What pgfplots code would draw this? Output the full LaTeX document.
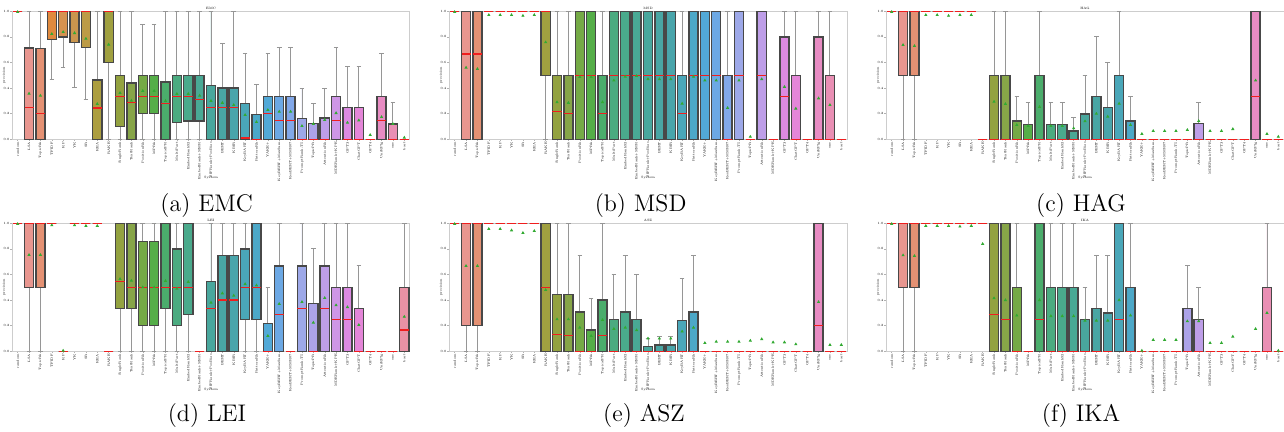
\documentclass[border=0pt]{standalone}
\usepackage{pgfplots}
\pgfplotsset{compat=1.18}
\usepgfplotslibrary{statistics}
\newcommand{\tinyf}{\fontsize{1.6}{1.9}\selectfont}
\definecolor{c1}{RGB}{233,143,140}\definecolor{c2}{RGB}{232,150,143}\definecolor{c3}{RGB}{228,145,115}
\definecolor{c4}{RGB}{224,138,62}\definecolor{c5}{RGB}{214,146,80}\definecolor{c6}{RGB}{202,150,78}
\definecolor{c7}{RGB}{188,155,70}\definecolor{c8}{RGB}{172,158,64}\definecolor{c9}{RGB}{160,160,64}
\definecolor{c10}{RGB}{147,162,64}\definecolor{c11}{RGB}{135,165,72}\definecolor{c12}{RGB}{117,170,70}
\definecolor{c13}{RGB}{85,174,72}\definecolor{c14}{RGB}{75,173,108}\definecolor{c15}{RGB}{75,171,128}
\definecolor{c16}{RGB}{74,170,140}\definecolor{c17}{RGB}{73,169,149}\definecolor{c18}{RGB}{73,167,157}
\definecolor{c19}{RGB}{73,166,164}\definecolor{c20}{RGB}{73,165,171}\definecolor{c21}{RGB}{74,167,185}
\definecolor{c22}{RGB}{76,168,200}\definecolor{c23}{RGB}{82,169,215}\definecolor{c24}{RGB}{108,168,228}
\definecolor{c25}{RGB}{130,168,233}\definecolor{c26}{RGB}{157,168,232}\definecolor{c27}{RGB}{172,163,232}
\definecolor{c28}{RGB}{190,158,232}\definecolor{c29}{RGB}{206,150,230}\definecolor{c30}{RGB}{220,138,225}
\definecolor{c31}{RGB}{228,134,216}\definecolor{c32}{RGB}{230,136,205}\definecolor{c33}{RGB}{232,140,195}
\definecolor{c34}{RGB}{233,143,180}\definecolor{c35}{RGB}{234,146,165}
\definecolor{boxedge}{RGB}{72,72,72}
\definecolor{whisk}{RGB}{150,150,150}
\definecolor{medred}{RGB}{240,30,30}
\definecolor{frame}{RGB}{205,205,205}
\definecolor{meang}{RGB}{50,170,50}
% box: position, lower whisker, lower quartile, median, upper quartile, upper whisker
\newcommand{\bp}[6]{\addplot[fill=c#1, draw=boxedge, boxplot prepared={draw position=#1, lower whisker=#2, lower quartile=#3, median=#4, upper quartile=#5, upper whisker=#6}] coordinates {};}
\newcommand{\fl}[2]{\bp{#1}{#2}{#2}{#2}{#2}{#2}}
\pgfplotsset{every axis title shift=0pt}
\pgfplotsset{panel/.style={
  scale only axis, width=199pt, height=64pt,
  xmin=0.5, xmax=35.5, ymin=0, ymax=1,
  axis line style={draw=frame, line width=0.5pt},
  xtick={1,...,35},
  xticklabels={random,LSA,TopicRk,TFIDF,KP,YK,SR,KEA,RAKE,SingleRank,TextRank,PositionRk,MPRk,TopicalPR,MultiPart,EmbedRankS2,EmbedRank+MMR,SIFRank+PosBias,BERT,KBIR,KeyBART,PatternRk,YAKE+,KeyBERT+MaxSum,KeyBERT+MMR07,PromptRank-T5,TopicPR,AttentionRk,MDERank+KPE,GPT3,ChatGPT,GPT4,UniKPlg,one,bart},
  ytick={0,0.2,0.4,0.6,0.8,1},
  yticklabel style={/pgf/number format/.cd, fixed, fixed zerofill, precision=1, assume math mode=true},
  tick label style={font=\tinyf, inner sep=0.4pt},
  x tick label style={rotate=90, anchor=east},
  major tick length=0.8pt, tick style={draw=gray!60, line width=0.2pt}, tick align=outside,
  xtick pos=bottom, ytick pos=left,
  xlabel={System}, ylabel={precision},
  label style={font=\tinyf},
  xlabel style={at={(axis description cs:0.5,-0.235)}, anchor=north, yshift=0pt},
  ylabel style={at={(axis description cs:-0.02,0.5)}, anchor=center},
  title style={font=\tinyf, at={(axis description cs:0.5,1)}, anchor=south, inner sep=0.5pt, yshift=0pt},
  boxplot/draw direction=y,
  boxplot/box extend=0.8, boxplot/whisker extend=0.4,
  boxplot/every box/.style={draw=boxedge, line width=0.7pt},
  boxplot/every whisker/.style={draw=whisk, line width=0.45pt},
  boxplot/every median/.style={draw=medred, line width=0.7pt},
}}
\tikzset{mean/.style={only marks, mark=triangle*, mark size=0.55pt, color=meang}}
\begin{document}
\begin{tikzpicture}
\useasboundingbox (0,0) rectangle (642pt,-216pt);
% (a) EMC
\begin{axis}[panel, title={EMC}, at={(6pt,-69.65pt)}, anchor=south west]
\fl{1}{1}
\bp{2}{0}{0}{0.25}{0.714}{1}
\bp{3}{0}{0}{0.2}{0.71}{1}
\bp{4}{0.469}{0.78}{1}{1}{1}
\bp{5}{0.5625}{0.8}{1}{1}{1}
\bp{6}{0.406}{0.758}{1}{1}{1}
\bp{7}{0.3125}{0.716}{1}{1}{1}
\bp{8}{0}{0}{0.245}{0.464}{1}
\bp{9}{0}{0.6}{1}{1}{1}
\bp{10}{0}{0.1}{0.333}{0.5}{1}
\bp{11}{0}{0}{0.286}{0.44}{1}
\bp{12}{0}{0.2}{0.333}{0.5}{0.9}
\bp{13}{0}{0.2}{0.333}{0.5}{0.9}
\bp{14}{0}{0}{0.279}{0.448}{1}
\bp{15}{0}{0.13}{0.333}{0.5}{1}
\bp{16}{0}{0.143}{0.333}{0.5}{1}
\bp{17}{0}{0.143}{0.31}{0.5}{1}
\bp{18}{0}{0}{0.25}{0.42}{1}
\bp{19}{0}{0}{0.25}{0.4}{0.75}
\bp{20}{0}{0}{0.25}{0.4}{1}
\bp{21}{0}{0}{0.01}{0.281}{0.667}
\bp{22}{0}{0}{0}{0.195}{0.43}
\bp{23}{0}{0}{0.2}{0.333}{0.667}
\bp{24}{0}{0}{0.145}{0.333}{0.714}
\bp{25}{0}{0}{0.145}{0.333}{0.714}
\bp{26}{0}{0}{0}{0.164}{0.4}
\bp{27}{0}{0}{0}{0.125}{0.281}
\bp{28}{0}{0}{0}{0.167}{0.4}
\bp{29}{0}{0}{0.145}{0.333}{0.714}
\bp{30}{0}{0}{0}{0.25}{0.57}
\bp{31}{0}{0}{0}{0.25}{0.57}
\fl{32}{0}
\bp{33}{0}{0}{0.145}{0.333}{0.667}
\bp{34}{0}{0}{0}{0.12}{0.286}
\fl{35}{0}
\addplot[mean] coordinates {(1,0.995)(2,0.357)(3,0.341)(4,0.823)(5,0.838)(6,0.83)(7,0.786)(8,0.276)(9,0.74)(10,0.362)(11,0.302)(12,0.378)(13,0.378)(14,0.3)(15,0.355)(16,0.355)(17,0.341)(18,0.3)(19,0.285)(20,0.268)(21,0.19)(22,0.135)(23,0.229)(24,0.216)(25,0.216)(26,0.104)(27,0.12)(28,0.151)(29,0.205)(30,0.13)(31,0.148)(32,0.034)(33,0.174)(34,0.12)(35,0.013)};
\end{axis}
% (b) MSD
\begin{axis}[panel, title={MSD}, at={(224.5pt,-69.65pt)}, anchor=south west]
\fl{1}{1}
\bp{2}{0}{0}{0.667}{1}{1}
\bp{3}{0}{0}{0.667}{1}{1}
\fl{4}{1}\fl{5}{1}\fl{6}{1}\fl{7}{1}\fl{8}{1}
\bp{9}{0}{0.5}{1}{1}{1}
\bp{10}{0}{0}{0.219}{0.5}{1}
\bp{11}{0}{0}{0.2}{0.5}{1}
\bp{12}{0}{0}{0.5}{1}{1}
\bp{13}{0}{0}{0.5}{1}{1}
\bp{14}{0}{0}{0.2}{0.5}{1}
\bp{15}{0}{0}{0.5}{1}{1}
\bp{16}{0}{0}{0.5}{1}{1}
\bp{17}{0}{0}{0.5}{1}{1}
\bp{18}{0}{0}{0.5}{1}{1}
\bp{19}{0}{0}{0.5}{1}{1}
\bp{20}{0}{0}{0.5}{1}{1}
\bp{21}{0}{0}{0.2}{0.5}{1}
\bp{22}{0}{0}{0.5}{1}{1}
\bp{23}{0}{0}{0.5}{1}{1}
\bp{24}{0}{0}{0.5}{1}{1}
\bp{25}{0}{0}{0}{0.5}{1}
\bp{26}{0}{0}{0.5}{1}{1}
\fl{27}{0}
\bp{28}{0}{0}{0.5}{1}{1}
\fl{29}{0}
\bp{30}{0}{0}{0.333}{0.8}{1}
\bp{31}{0}{0}{0}{0.5}{1}
\fl{32}{0}
\bp{33}{0}{0}{0}{0.8}{1}
\bp{34}{0}{0}{0}{0.5}{1}
\fl{35}{0}
\addplot[mean] coordinates {(1,0.995)(2,0.56)(3,0.55)(4,0.971)(5,0.971)(6,0.971)(7,0.965)(8,0.971)(9,0.758)(10,0.29)(11,0.285)(12,0.487)(13,0.487)(14,0.29)(15,0.46)(16,0.49)(17,0.495)(18,0.47)(19,0.47)(20,0.47)(21,0.279)(22,0.49)(23,0.46)(24,0.46)(25,0.245)(26,0.46)(27,0.02)(28,0.47)(30,0.41)(31,0.24)(33,0.32)(34,0.268)};
\end{axis}
% (c) HAG
\begin{axis}[panel, title={HAG}, at={(443pt,-69.65pt)}, anchor=south west]
\fl{1}{1}
\bp{2}{0}{0.5}{1}{1}{1}
\bp{3}{0}{0.5}{1}{1}{1}
\fl{4}{1}\fl{5}{1}\fl{6}{1}\fl{7}{1}\fl{8}{1}
\fl{9}{0}
\bp{10}{0}{0}{0}{0.5}{1}
\bp{11}{0}{0}{0}{0.5}{1}
\bp{12}{0}{0}{0}{0.143}{0.333}
\bp{13}{0}{0}{0}{0.115}{0.286}
\bp{14}{0}{0}{0}{0.5}{1}
\bp{15}{0}{0}{0}{0.115}{0.286}
\bp{16}{0}{0}{0}{0.115}{0.286}
\bp{17}{0}{0}{0}{0.065}{0.167}
\bp{18}{0}{0}{0}{0.198}{0.5}
\bp{19}{0}{0}{0}{0.333}{0.8}
\bp{20}{0}{0}{0}{0.25}{0.6}
\bp{21}{0}{0}{0}{0.5}{1}
\bp{22}{0}{0}{0}{0.143}{0.333}
\fl{23}{0}\fl{24}{0}\fl{25}{0}\fl{26}{0}\fl{27}{0}
\bp{28}{0}{0}{0}{0.125}{0.286}
\fl{29}{0}\fl{30}{0}\fl{31}{0}\fl{32}{0}
\bp{33}{0}{0}{0.333}{1}{1}
\fl{34}{0}\fl{35}{0}
\addplot[mean] coordinates {(1,0.995)(2,0.737)(3,0.729)(4,0.971)(5,0.971)(6,0.965)(7,0.971)(8,0.971)(10,0.294)(11,0.276)(12,0.112)(13,0.104)(14,0.253)(15,0.104)(16,0.104)(17,0.086)(18,0.141)(19,0.2)(20,0.177)(21,0.279)(22,0.112)(23,0.042)(24,0.065)(25,0.065)(26,0.065)(27,0.073)(28,0.143)(29,0.065)(30,0.065)(31,0.08)(33,0.46)(34,0.042)(35,0.02)};
\end{axis}
% (d) LEI
\begin{axis}[panel, title={LEI}, at={(6pt,-175.65pt)}, anchor=south west]
\fl{1}{1}
\bp{2}{0}{0.5}{1}{1}{1}
\bp{3}{0}{0.5}{1}{1}{1}
\fl{4}{1}\fl{5}{0}\fl{6}{1}\fl{7}{1}\fl{8}{1}\fl{9}{0}
\bp{10}{0}{0.333}{0.547}{1}{1}
\bp{11}{0}{0.333}{0.5}{1}{1}
\bp{12}{0}{0.2}{0.5}{0.857}{1}
\bp{13}{0}{0.2}{0.5}{0.857}{1}
\bp{14}{0}{0.333}{0.5}{1}{1}
\bp{15}{0}{0.2}{0.5}{0.8}{1}
\bp{16}{0}{0.286}{0.5}{1}{1}
\fl{17}{0}
\bp{18}{0}{0}{0.333}{0.547}{1}
\bp{19}{0}{0}{0.4}{0.75}{1}
\bp{20}{0}{0}{0.4}{0.75}{1}
\bp{21}{0}{0.25}{0.5}{0.8}{1}
\bp{22}{0}{0.25}{0.5}{1}{1}
\bp{23}{0}{0}{0}{0.219}{0.5}
\bp{24}{0}{0}{0.286}{0.667}{1}
\fl{25}{0}
\bp{26}{0}{0}{0.333}{0.667}{1}
\bp{27}{0}{0}{0}{0.375}{0.8}
\bp{28}{0}{0}{0.333}{0.667}{1}
\bp{29}{0}{0}{0.25}{0.5}{1}
\bp{30}{0}{0}{0.25}{0.5}{1}
\bp{31}{0}{0}{0}{0.333}{0.667}
\fl{32}{0}\fl{33}{0}\fl{34}{0}
\bp{35}{0}{0}{0.167}{0.5}{1}
\addplot[mean] coordinates {(1,0.995)(2,0.753)(3,0.753)(4,0.985)(5,0.005)(6,0.985)(7,0.98)(8,0.98)(10,0.565)(11,0.552)(12,0.5)(13,0.5)(14,0.55)(15,0.49)(16,0.542)(18,0.38)(19,0.453)(20,0.435)(21,0.525)(22,0.515)(23,0.12)(24,0.37)(26,0.385)(27,0.224)(28,0.417)(29,0.36)(30,0.345)(31,0.206)(35,0.27)};
\end{axis}
% (e) ASZ
\begin{axis}[panel, title={ASZ}, at={(224.5pt,-175.65pt)}, anchor=south west]
\fl{1}{1}
\bp{2}{0}{0.2}{1}{1}{1}
\bp{3}{0}{0.2}{1}{1}{1}
\fl{4}{1}\fl{5}{1}\fl{6}{1}\fl{7}{1}\fl{8}{1}
\bp{9}{0}{0}{0.5}{1}{1}
\bp{10}{0}{0}{0.133}{0.445}{1}
\bp{11}{0}{0}{0.125}{0.445}{1}
\bp{12}{0}{0}{0}{0.307}{0.75}
\bp{13}{0}{0}{0}{0.167}{0.41}
\bp{14}{0}{0}{0.125}{0.4}{1}
\bp{15}{0}{0}{0}{0.25}{0.6}
\bp{16}{0}{0}{0}{0.307}{0.75}
\bp{17}{0}{0}{0}{0.25}{0.6}
\bp{18}{0}{0}{0}{0.039}{0.1}
\bp{19}{0}{0}{0}{0.05}{0.115}
\bp{20}{0}{0}{0}{0.05}{0.115}
\bp{21}{0}{0}{0}{0.24}{0.57}
\bp{22}{0}{0}{0}{0.307}{0.75}
\fl{23}{0}\fl{24}{0}\fl{25}{0}\fl{26}{0}\fl{27}{0}\fl{28}{0}\fl{29}{0}\fl{30}{0}\fl{31}{0}\fl{32}{0}
\bp{33}{0}{0}{0.2}{1}{1}
\fl{34}{0}\fl{35}{0}
\addplot[mean] coordinates {(1,0.995)(2,0.667)(3,0.667)(4,0.956)(5,0.956)(6,0.945)(7,0.925)(8,0.94)(9,0.479)(10,0.25)(11,0.25)(12,0.185)(13,0.12)(14,0.245)(15,0.175)(16,0.185)(17,0.165)(18,0.1)(19,0.1)(20,0.1)(21,0.155)(22,0.185)(23,0.065)(24,0.075)(25,0.075)(26,0.075)(27,0.083)(28,0.095)(29,0.07)(30,0.07)(31,0.055)(33,0.385)(34,0.05)(35,0.05)};
\end{axis}
% (f) IKA
\begin{axis}[panel, title={IKA}, at={(443pt,-175.65pt)}, anchor=south west]
\fl{1}{1}
\bp{2}{0}{0.5}{1}{1}{1}
\bp{3}{0}{0.5}{1}{1}{1}
\fl{4}{1}\fl{5}{1}\fl{6}{1}\fl{7}{1}\fl{8}{1}\fl{9}{1}
\bp{10}{0}{0}{0.286}{1}{1}
\bp{11}{0}{0}{0.25}{1}{1}
\bp{12}{0}{0}{0}{0.5}{1}
\fl{13}{0}
\bp{14}{0}{0}{0.25}{1}{1}
\bp{15}{0}{0}{0}{0.5}{1}
\bp{16}{0}{0}{0}{0.5}{1}
\bp{17}{0}{0}{0}{0.5}{1}
\bp{18}{0}{0}{0}{0.25}{0.5}
\bp{19}{0}{0}{0}{0.333}{0.75}
\bp{20}{0}{0}{0}{0.3}{0.75}
\bp{21}{0}{0}{0.25}{1}{1}
\bp{22}{0}{0}{0}{0.5}{1}
\fl{23}{0}\fl{24}{0}\fl{25}{0}\fl{26}{0}
\bp{27}{0}{0}{0}{0.333}{0.667}
\bp{28}{0}{0}{0}{0.25}{0.5}
\fl{29}{0}\fl{30}{0}\fl{31}{0}\fl{32}{0}\fl{33}{0}
\bp{34}{0}{0}{0}{0.5}{1}
\fl{35}{0}
\addplot[mean] coordinates {(1,0.995)(2,0.75)(3,0.745)(4,0.98)(5,0.98)(6,0.98)(7,0.975)(8,0.98)(9,0.839)(10,0.415)(11,0.4)(12,0.28)(14,0.4)(15,0.275)(16,0.275)(17,0.275)(18,0.24)(19,0.24)(20,0.24)(21,0.4)(22,0.28)(23,0.005)(24,0.089)(25,0.089)(26,0.089)(27,0.235)(28,0.235)(29,0.065)(30,0.065)(31,0.115)(33,0.175)(34,0.3)(35,0.005)};
\end{axis}
% captions
\node[font=\fontsize{12}{14}\selectfont, anchor=base] at (103.3pt,-106pt) {(a) EMC};
\node[font=\fontsize{12}{14}\selectfont, anchor=base] at (320.3pt,-106pt) {(b) MSD};
\node[font=\fontsize{12}{14}\selectfont, anchor=base] at (540.5pt,-106pt) {(c) HAG};
\node[font=\fontsize{12}{14}\selectfont, anchor=base] at (103.5pt,-211pt) {(d) LEI};
\node[font=\fontsize{12}{14}\selectfont, anchor=base] at (322pt,-211pt) {(e) ASZ};
\node[font=\fontsize{12}{14}\selectfont, anchor=base] at (540.5pt,-211pt) {(f) IKA};
\end{tikzpicture}
\end{document}
